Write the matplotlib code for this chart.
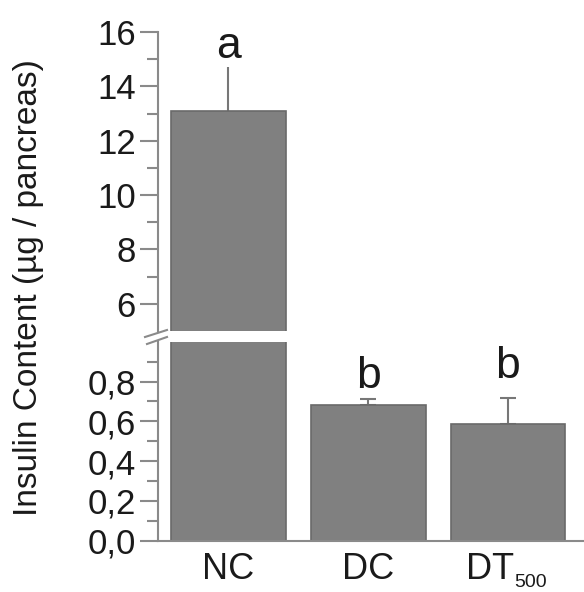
import matplotlib
matplotlib.use("Agg")
import matplotlib.pyplot as plt
from matplotlib.lines import Line2D
from matplotlib.transforms import ScaledTranslation

plt.rcParams['font.family'] = ['Liberation Sans', 'DejaVu Sans']

# ---- data ----
categories = ["NC", "DC", "DT"]
subscripts = ["", "", "500"]
values = [13.1, 0.68, 0.585]
errors = [1.6, 0.03, 0.13]
letters = ["a", "b", "b"]
top_ticks = [6, 8, 10, 12, 14, 16]
bottom_ticks = [0.0, 0.2, 0.4, 0.6, 0.8]
bottom_tick_labels = ["0,0", "0,2", "0,4", "0,6", "0,8"]
ylabel = "Insulin Content (\u00b5g / pancreas)"

W, H = 584, 592
fig = plt.figure(figsize=(W / 100, H / 100), dpi=100)

left = 158 / W
width = 1 - left
ax_top = fig.add_axes([left, 1 - 331 / H, width, 299 / H])
ax_bot = fig.add_axes([left, 1 - 540.7 / H, width, 199 / H])

bar_color = "#808080"
edge_color = "#6a6a6a"
axis_color = "#8a8a8a"
err_color = "#777777"
text_color = "#1a1a1a"
x = list(range(len(categories)))
capsizes = [0, 6, 6]

for ax in (ax_top, ax_bot):
    ax.bar(x, values, width=0.82, color=bar_color, edgecolor=edge_color, linewidth=1.2, zorder=2)
    for xi, v, e, cs in zip(x, values, errors, capsizes):
        ax.errorbar([xi], [v], yerr=[[0], [e]], fmt='none', ecolor=err_color,
                    elinewidth=1.5, capsize=cs, capthick=1.5, zorder=1)
    ax.set_xlim(-0.504, 2.544)
    for s in ("top", "right"):
        ax.spines[s].set_visible(False)
    ax.spines["left"].set_color(axis_color)
    ax.spines["left"].set_linewidth(1.5)
    ax.tick_params(axis="y", which="major", length=13, width=1.5, color=axis_color,
                   labelsize=25, pad=3, labelcolor=text_color)
    ax.tick_params(axis="y", which="minor", length=8, width=1.5, color=axis_color)
    ax.patch.set_alpha(0)

# top axis
ax_top.set_ylim(5.0, 16)
ax_top.set_yticks(top_ticks)
ax_top.set_yticklabels([str(t) for t in top_ticks])
ax_top.set_yticks([7, 9, 11, 13, 15], minor=True)
ax_top.spines["bottom"].set_visible(False)
ax_top.set_xticks([])

# bottom axis
ax_bot.set_ylim(0, 1.0)
ax_bot.set_yticks(bottom_ticks)
ax_bot.set_yticklabels(bottom_tick_labels)
ax_bot.set_yticks([0.1, 0.3, 0.5, 0.7, 0.9], minor=True)
ax_bot.spines["bottom"].set_color(axis_color)
ax_bot.spines["bottom"].set_linewidth(1.5)
ax_bot.set_xticks(x)
ax_bot.set_xticklabels(categories)
ax_bot.tick_params(axis="x", length=0, labelsize=26, pad=8, labelcolor=text_color)

# subscripts on x labels
fig.canvas.draw()
for lbl, sub in zip(ax_bot.get_xticklabels(), subscripts):
    if sub:
        lbl.set_transform(lbl.get_transform() + ScaledTranslation(-18 / 100, 0, fig.dpi_scale_trans))
        fig.canvas.draw()
        ax_bot.annotate(sub, xy=(1, 0), xycoords=lbl, xytext=(0, -3), textcoords="offset points",
                        ha="left", va="bottom", fontsize=14, color=text_color)

# significance letters
letter_offsets = [9, 11, 20]  # pixels above error bar to baseline
for xi, v, e, lt, off in zip(x, values, errors, letters, letter_offsets):
    ax = ax_top if v > 1 else ax_bot
    ax.annotate(lt, (xi, v + e), xytext=(0, off * 0.72), textcoords="offset points",
                ha="center", va="baseline", fontsize=32, color=text_color)

# break marks
for (x0, y0, x1, y1) in [(145, 337, 167, 330), (147, 344, 167, 337)]:
    fig.add_artist(Line2D([x0 / W, x1 / W], [1 - y0 / H, 1 - y1 / H],
                          color=axis_color, linewidth=1.5))

fig.text(29 / W, 1 - 288 / H, ylabel, rotation=90, ha="center", va="center",
         fontsize=24, color=text_color)

fig.savefig("out.png", dpi=100)
